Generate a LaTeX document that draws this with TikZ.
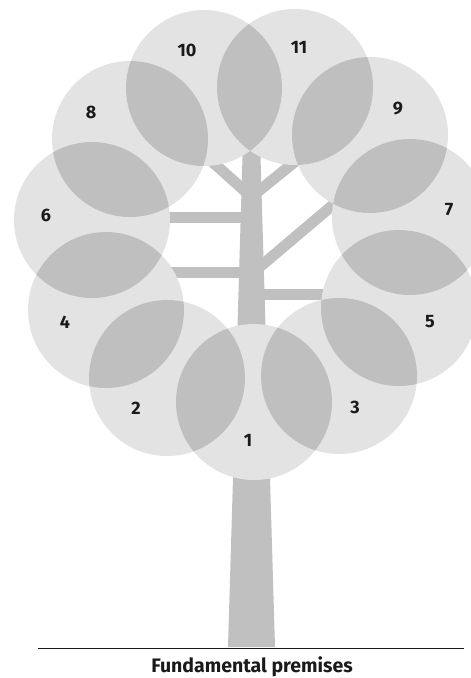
\documentclass[tikz,border=0pt]{standalone}
\usepackage{fontspec}
\setmainfont{Fira Sans}
\definecolor{leaf}{HTML}{E3E3E3}
\definecolor{lap}{HTML}{BFBFBF}
\definecolor{wood}{HTML}{C0C0C0}
\definecolor{ink}{HTML}{1A1A1A}
\begin{document}
\begin{tikzpicture}[x=1pt,y=-1pt,
  branch/.style={draw=wood,line width=11pt},
  num/.style={font=\bfseries\fontsize{18}{18}\selectfont,text=ink,inner sep=0pt},
  caption/.style={font=\bfseries\fontsize{19.5}{19.5}\selectfont,text=ink,inner sep=0pt}]
\useasboundingbox (0,0) rectangle (471,678);
\clip (0,0) rectangle (471,678);
% circle centres
\coordinate (c1) at (254,402);
\coordinate (c2) at (167,378);
\coordinate (c3) at (339,376);
\coordinate (c4) at (106,310);
\coordinate (c5) at (399,308);
\coordinate (c6) at (92,220);
\coordinate (c7) at (410,217);
\coordinate (c8) at (130,139);
\coordinate (c9) at (370,135);
\coordinate (c10) at (204,88);
\coordinate (c11) at (295,87);
% trunk
\fill[wood] (228,647) -- (243,140) -- (260,140) -- (275,647) -- cycle;
% branches
\coordinate (bl1a) at (246,192); \coordinate (bl1b) at (208,158);
\coordinate (br1a) at (255,194); \coordinate (br1b) at (302,156);
\coordinate (bh1a) at (248,217); \coordinate (bh1b) at (160,217);
\coordinate (bh2a) at (248,272); \coordinate (bh2b) at (165,272);
\coordinate (bd1a) at (255,271); \coordinate (bd1b) at (340,199);
\coordinate (bh3a) at (255,294); \coordinate (bh3b) at (335,294);
\draw[branch] (bl1a) -- (bl1b);
\draw[branch] (br1a) -- (br1b);
\draw[branch] (bh1a) -- (bh1b);
\draw[branch] (bh2a) -- (bh2b);
\draw[branch] (bd1a) -- (bd1b);
\draw[branch] (bh3a) -- (bh3b);
% leaves
\foreach \c in {c1,c2,c3,c4,c5,c6,c7,c8,c9,c10,c11}
  \fill[leaf] (\c) circle (78pt);
% overlaps
\foreach \a/\b in {c1/c2,c1/c3,c2/c4,c3/c5,c4/c6,c5/c7,c6/c8,c7/c9,c8/c10,c9/c11,c10/c11}{
  \begin{scope}
    \clip (\a) circle (78pt);
    \fill[lap] (\b) circle (78pt);
  \end{scope}
}
% labels
\node[num] (n1) at (248,440) {1};
\node[num] (n2) at (136,408) {2};
\node[num] (n3) at (355,407) {3};
\node[num] (n4) at (65,322) {4};
\node[num] (n5) at (430,322) {5};
\node[num] (n6) at (46,215) {6};
\node[num] (n7) at (449,210) {7};
\node[num] (n8) at (91,112) {8};
\node[num] (n9) at (398,109) {9};
\node[num] (n10) at (187,50) {10};
\node[num] (n11) at (299,47) {11};
% ground
\coordinate (g1) at (38,648);
\coordinate (g2) at (464,648);
\draw[ink,line width=1pt] (g1) -- (g2);
\node[caption] (cap) at (252,667) {Fundamental premises};
\end{tikzpicture}
\end{document}
